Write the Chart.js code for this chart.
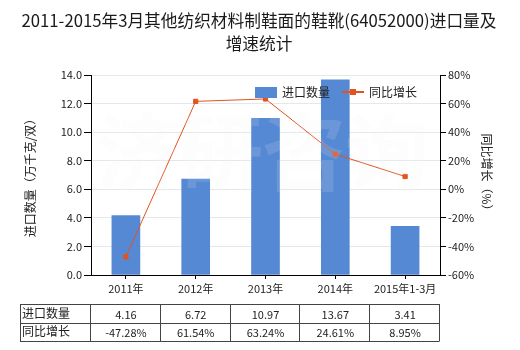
<!DOCTYPE html>
<html>
<head>
<meta charset="utf-8">
<script src="https://cdn.jsdelivr.net/npm/chart.js@4.4.1/dist/chart.umd.min.js"></script>
<style>
  html, body { margin: 0; padding: 0; background: #fff; }
  #wrap { width: 520px; height: 350px; }
</style>
</head>
<body>
<div id="wrap"><canvas id="c" width="520" height="350"></canvas></div>
<script>
// Import volume (10k kg / pairs) and year-on-year growth (%)
const categories = ['2011年', '2012年', '2013年', '2014年', '2015年1-3月'];
const volume = [4.16, 6.72, 10.97, 13.67, 3.41];
const growth = [-47.28, 61.54, 63.24, 24.61, 8.95];
const volumeLabels = ['4.16', '6.72', '10.97', '13.67', '3.41'];
const growthLabels = ['-47.28%', '61.54%', '63.24%', '24.61%', '8.95%'];
const titleLines = ['2011-2015年3月其他纺织材料制鞋面的鞋靴(64052000)进口量及', '增速统计'];
const seriesNames = ['进口数量', '同比增长'];

const FONT = '"Noto Sans CJK SC", "Microsoft YaHei", sans-serif';
const BAR_COLOR = '#5589D4';
const LINE_COLOR = '#E2531F';

// Title, watermark, in-plot legend and the data table beneath the axis
const decor = {
  id: 'decor',
  beforeDraw(chart) {
    const ctx = chart.ctx;
    ctx.save();
    ctx.fillStyle = '#fff';
    ctx.fillRect(0, 0, chart.width, chart.height);
    ctx.fillStyle = '#1a1a1a';
    ctx.font = '16.7px ' + FONT;
    ctx.textAlign = 'center';
    ctx.textBaseline = 'middle';
    ctx.fillText(titleLines[0], 259, 21);
    ctx.fillText(titleLines[1], 259, 44);
    ctx.restore();
  },
  afterDatasetsDraw(chart) {
    const ctx = chart.ctx;
    ctx.save();
    // watermark
    ctx.fillStyle = 'rgba(238,238,238,0.14)';
    ctx.font = 'bold 84px ' + FONT;
    ctx.textAlign = 'center';
    ctx.textBaseline = 'middle';
    const wm = ['济', '研', '咨', '询'];
    wm.forEach((ch, i) => ctx.fillText(ch, 138 + i * 83, 152));
    ctx.restore();

    // legend
    ctx.save();
    ctx.font = '12px ' + FONT;
    ctx.textBaseline = 'middle';
    ctx.fillStyle = BAR_COLOR;
    ctx.fillRect(255, 87, 22, 11);
    ctx.fillStyle = '#222';
    ctx.textAlign = 'left';
    ctx.fillText(seriesNames[0], 282, 92);
    ctx.strokeStyle = LINE_COLOR;
    ctx.lineWidth = 2;
    ctx.beginPath();
    ctx.moveTo(342, 92);
    ctx.lineTo(364, 92);
    ctx.stroke();
    ctx.fillStyle = LINE_COLOR;
    ctx.fillRect(350, 89, 6, 6);
    ctx.fillStyle = '#222';
    ctx.fillText(seriesNames[1], 369, 92);
    ctx.restore();
  },
  afterDraw(chart) {
    const ctx = chart.ctx;
    const a = chart.chartArea;
    const xs = chart.scales.x;
    const n = categories.length;
    const colW = (a.right - a.left) / n;
    const left = 20;
    const right = a.right - 1;
    const rows = [304, 323, 341];
    ctx.save();
    ctx.strokeStyle = '#444';
    ctx.lineWidth = 1;
    ctx.beginPath();
    rows.forEach(y => { ctx.moveTo(left, y + 0.5); ctx.lineTo(right, y + 0.5); });
    const vx = [left, a.left - 1];
    for (let i = 1; i < n; i++) vx.push(Math.round(a.left + i * colW) - 1);
    vx.push(right);
    vx.forEach(x => { ctx.moveTo(x + 0.5, rows[0]); ctx.lineTo(x + 0.5, rows[2] + 0.5); });
    ctx.stroke();

    ctx.fillStyle = '#222';
    ctx.textBaseline = 'middle';
    ctx.font = '12px ' + FONT;
    ctx.textAlign = 'left';
    ctx.fillText(seriesNames[0], 22, 313);
    ctx.fillText(seriesNames[1], 22, 331);
    ctx.font = '11px ' + FONT;
    ctx.textAlign = 'center';
    for (let i = 0; i < n; i++) {
      const cx = xs.getPixelForValue(i);
      ctx.fillText(volumeLabels[i], cx, 315);
      ctx.fillText(growthLabels[i], cx, 333);
    }
    ctx.restore();
  }
};

new Chart(document.getElementById('c'), {
  data: {
    labels: categories,
    datasets: [
      {
        type: 'line',
        label: seriesNames[1],
        data: growth,
        yAxisID: 'y1',
        borderColor: LINE_COLOR,
        backgroundColor: LINE_COLOR,
        borderWidth: 1,
        pointStyle: 'rect',
        pointRadius: 3,
        pointHoverRadius: 3,
        tension: 0,
        order: 0
      },
      {
        type: 'bar',
        label: seriesNames[0],
        data: volume,
        yAxisID: 'y',
        backgroundColor: BAR_COLOR,
        barThickness: 28,
        order: 1
      }
    ]
  },
  options: {
    responsive: false,
    animation: false,
    devicePixelRatio: 1,
    layout: { padding: { top: 75, left: 0, right: 0, bottom: 0 } },
    plugins: {
      legend: { display: false },
      tooltip: { enabled: false },
      title: { display: false }
    },
    scales: {
      x: {
        offset: true,
        grid: { display: true, drawOnChartArea: false, offset: false, tickLength: 4, color: '#000', tickColor: '#000' },
        border: { color: '#000', width: 1 },
        ticks: { font: { size: 11, family: FONT }, color: '#222', padding: 3, maxRotation: 0, autoSkip: false },
        afterFit(s) { s.height = 75; }
      },
      y: {
        position: 'left',
        min: 0,
        max: 14,
        grid: { color: '#E3E9E9', tickColor: '#000', tickLength: 7, lineWidth: 1 },
        border: { color: '#000', width: 1 },
        ticks: {
          stepSize: 2,
          font: { size: 11, family: FONT },
          color: '#222',
          padding: 2,
          callback: v => v.toFixed(1)
        },
        title: {
          display: true,
          text: '进口数量（万千克/双）',
          font: { size: 12, family: FONT },
          color: '#222',
          padding: { top: 23, bottom: 0 }
        },
        afterFit(s) { s.width = 91; }
      },
      y1: {
        position: 'right',
        min: -60,
        max: 80,
        grid: { drawOnChartArea: false, color: '#000', tickColor: '#000', tickLength: 6 },
        border: { color: '#000', width: 1 },
        ticks: {
          stepSize: 20,
          font: { size: 11, family: FONT },
          color: '#222',
          padding: 2,
          callback: v => v + '%'
        },
        title: {
          display: true,
          text: '同比增长（%）',
          font: { size: 12, family: FONT },
          color: '#222',
          padding: { top: 26, bottom: 0 }
        },
        afterFit(s) { s.width = 80; }
      }
    }
  },
  plugins: [decor]
});
</script>
</body>
</html>
